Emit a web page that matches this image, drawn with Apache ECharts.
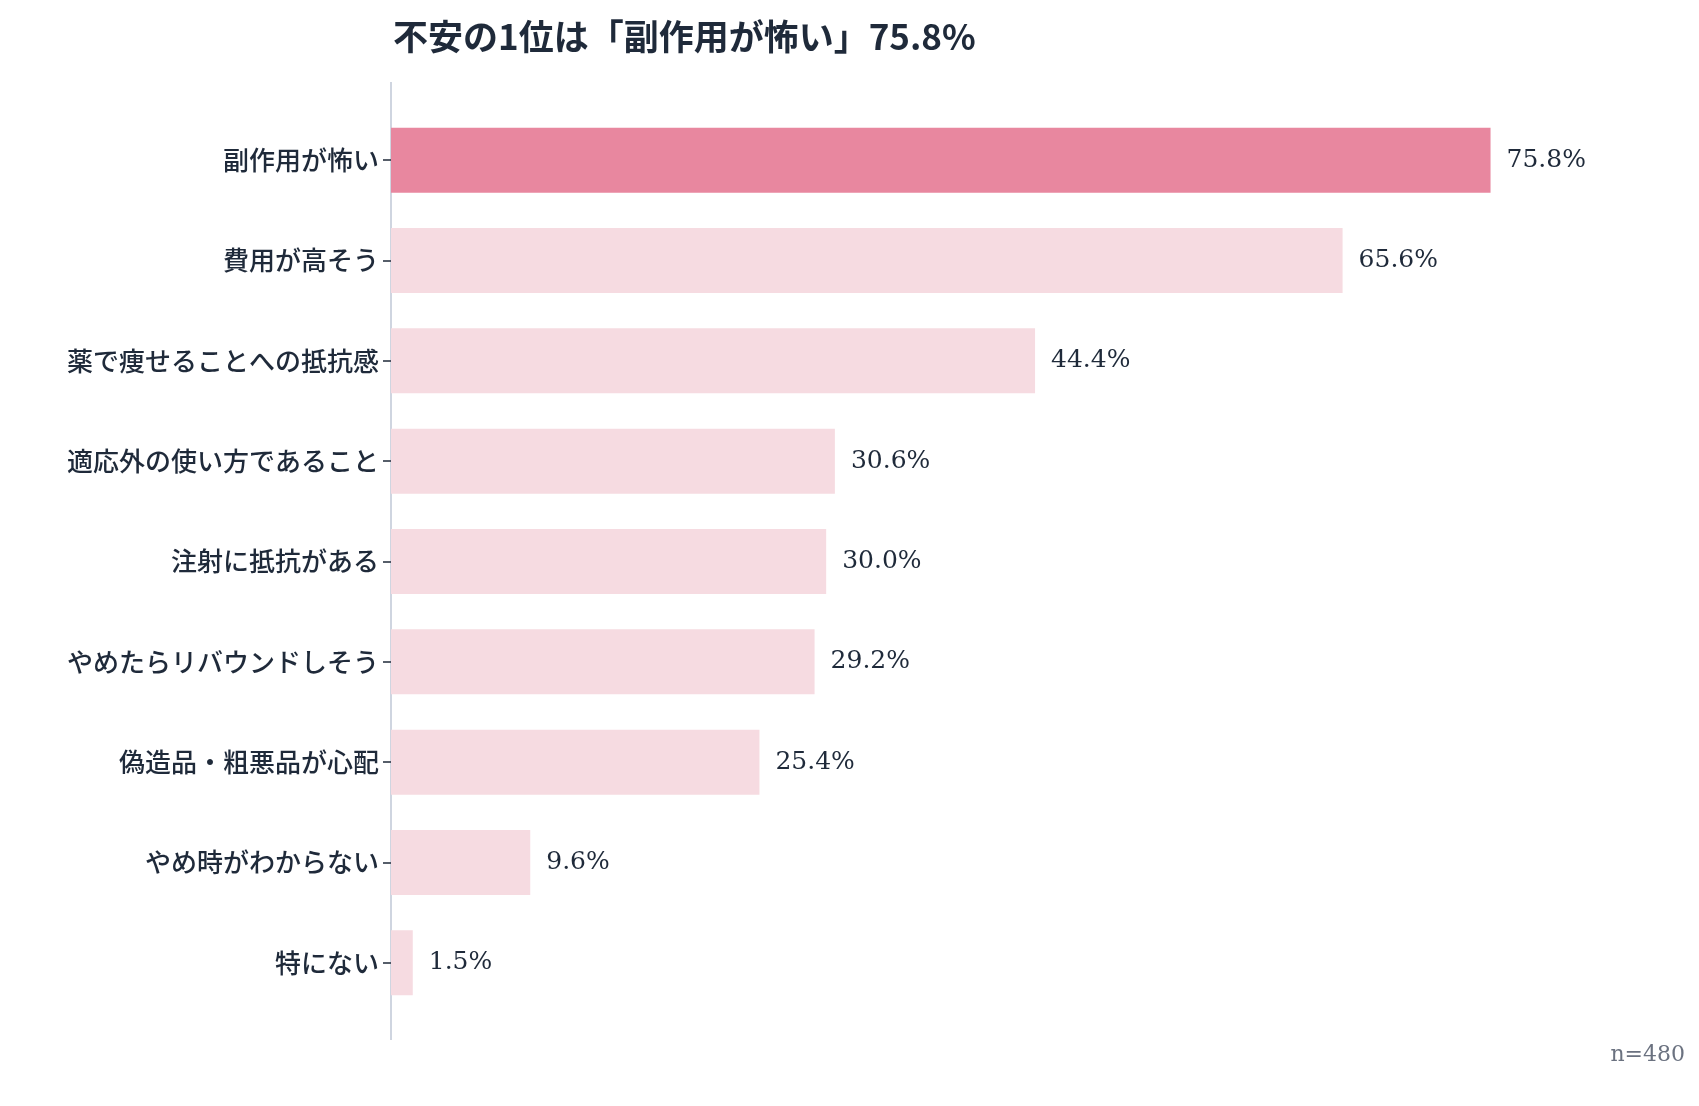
<!DOCTYPE html>
<html><head><meta charset="utf-8">
<script src="https://cdn.jsdelivr.net/npm/echarts@6/dist/echarts.min.js"></script>
<style>html,body{margin:0;background:#fff}#main{width:1699px;height:1106px}</style>
</head><body><div id="main"></div>
<script>
var categories = ['副作用が怖い','費用が高そう','薬で痩せることへの抵抗感','適応外の使い方であること','注射に抵抗がある','やめたらリバウンドしそう','偽造品・粗悪品が心配','やめ時がわからない','特にない'];
var values = [75.8, 65.6, 44.4, 30.6, 30.0, 29.2, 25.4, 9.6, 1.5];
var highlightIndex = 0;

var chart = echarts.init(document.getElementById('main'));
chart.setOption({
  animation: false,
  title: {
    text: '不安の1位は「副作用が怖い」75.8%',
    left: 388, top: 14,
    textStyle: {fontFamily: 'Noto Sans CJK JP', fontSize: 35, fontWeight: 'bold', color: '#1f2a3a'}
  },
  graphic: [{
    type: 'text', right: 14, bottom: 40,
    style: {text: 'n=480', fontFamily: 'DejaVu Serif', fontSize: 22, fill: '#6b7280'}
  }, {
    type: 'line', shape: {x1: 391, y1: 82, x2: 391, y2: 1040},
    style: {stroke: '#cfd5e0', lineWidth: 2}
  }],
  grid: {left: 391, right: 75, top: 110, height: 903},
  xAxis: {type: 'value', min: 0, max: 85, show: false},
  yAxis: {
    type: 'category', data: categories, inverse: true,
    axisLine: {show: false},
    axisTick: {show: true, length: 8, alignWithLabel: true, lineStyle: {color: '#1f2a3a', width: 1.5}},
    axisLabel: {fontFamily: 'Noto Sans CJK JP', fontSize: 26, color: '#1f2a3a', margin: 12, fontWeight: 500}
  },
  series: [{
    type: 'bar', barWidth: 65,
    data: values.map(function (v, i) {
      return {value: v, itemStyle: {color: i === highlightIndex ? '#E8879F' : '#F6DBE1'}};
    }),
    label: {
      show: true, position: 'right', distance: 16,
      formatter: function (p) { return p.value.toFixed(1) + '%'; },
      fontFamily: 'DejaVu Serif', fontSize: 25, color: '#1f2a3a'
    }
  }]
});
</script></body></html>
